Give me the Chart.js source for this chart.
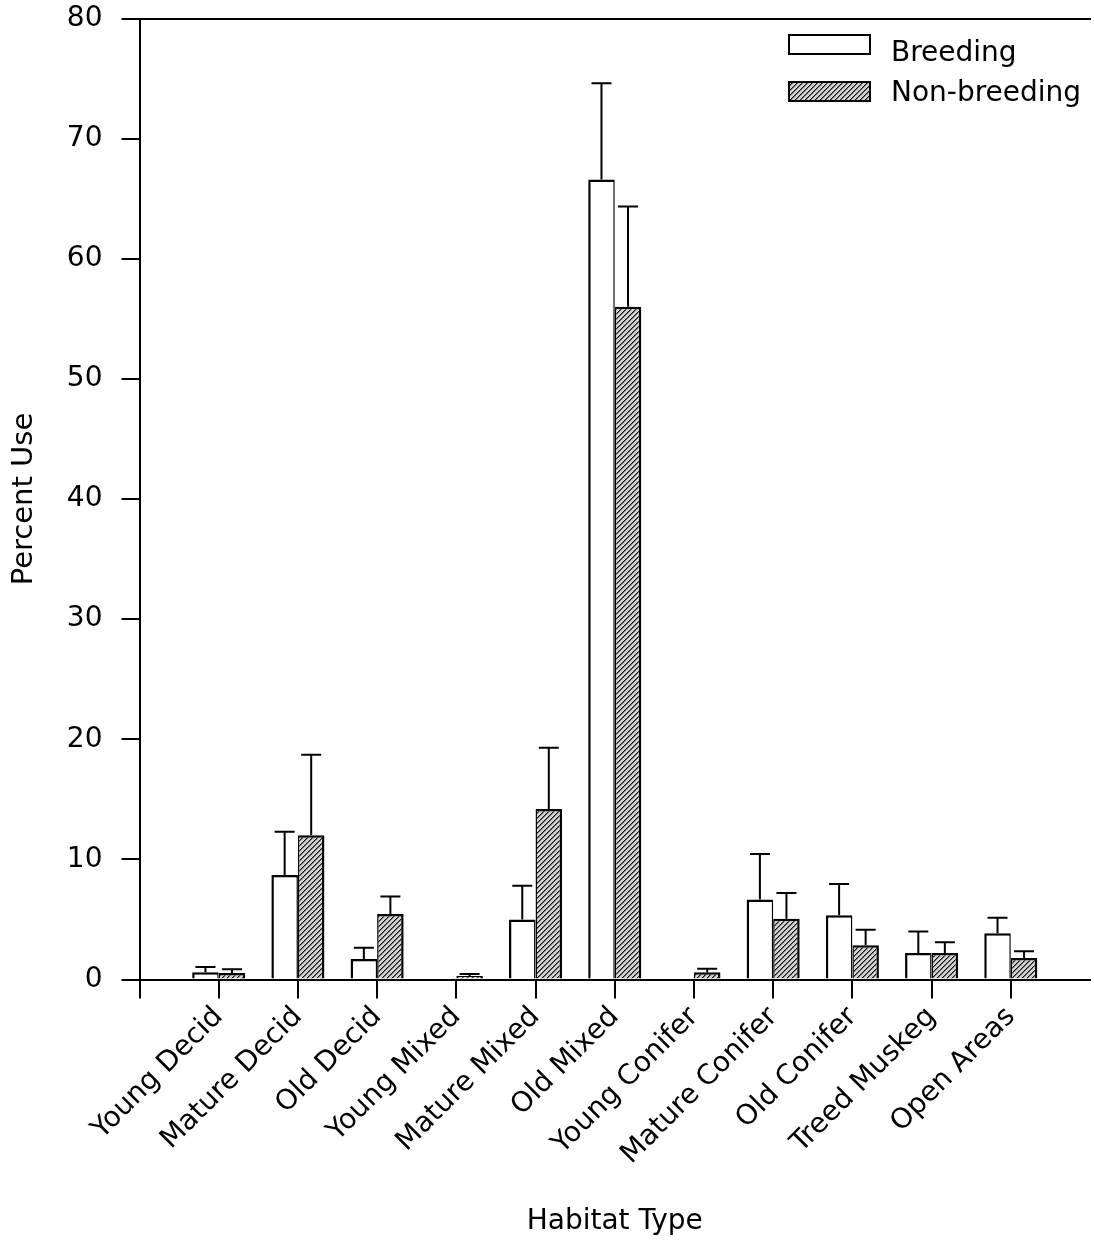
<!DOCTYPE html>
<html>
<head>
<meta charset="utf-8">
<script src="https://cdn.jsdelivr.net/npm/chart.js@4/dist/chart.umd.min.js"></script>
<style>
  html, body { margin: 0; padding: 0; background: #fff; }
  #wrap { width: 1094px; height: 1245px; position: relative; }
</style>
</head>
<body>
<div id="wrap"><canvas id="chart" width="1094" height="1245"></canvas></div>
<script>
// Habitat categories along the x axis
const habitats = ['Young Decid', 'Mature Decid', 'Old Decid', 'Young Mixed', 'Mature Mixed',
  'Old Mixed', 'Young Conifer', 'Mature Conifer', 'Old Conifer', 'Treed Muskeg', 'Open Areas'];

// Mean percent use and upper standard error, breeding season
const breedingUse = [0.6, 8.7, 1.7, 0, 5.0, 66.6, 0, 6.65, 5.35, 2.2, 3.85];
const breedingSE  = [0.45, 3.6, 0.95, 0, 2.8, 8.0, 0, 3.8, 2.6, 1.8, 1.3];

// Mean percent use and upper standard error, non-breeding season
const nonBreedingUse = [0.55, 12.0, 5.45, 0.3, 14.2, 56.0, 0.6, 5.05, 2.85, 2.2, 1.8];
const nonBreedingSE  = [0.3, 6.7, 1.45, 0.15, 5.1, 8.35, 0.3, 2.15, 1.3, 0.9, 0.55];

// Y axis tick values
const yTicks = [0, 10, 20, 30, 40, 50, 60, 70, 80];

const FONT = 'DejaVu Sans';

// One empty slot on each side so the habitats sit at whole-step positions
const axisLabels = [''].concat(habitats, ['']);
const pad = arr => [null].concat(arr, [null]);

const canvas = document.getElementById('chart');
const ctx = canvas.getContext('2d');

// Diagonal hatch used for the non-breeding bars
function makeHatch() {
  const s = 5;
  const tile = document.createElement('canvas');
  tile.width = s; tile.height = s;
  const g = tile.getContext('2d');
  g.fillStyle = '#d2d2d2';
  g.fillRect(0, 0, s, s);
  for (let i = 0; i < s; i++) {
    g.fillStyle = '#161616';
    g.fillRect(i, s - 1 - i, 1, 1);
    g.fillStyle = '#6c6c6c';
    g.fillRect(i, (s - i) % s, 1, 1);
  }
  return ctx.createPattern(tile, 'repeat');
}
const hatch = makeHatch();

// Scales keep exactly the size given to them, without extra label padding
function fixBox(size) {
  return s => {
    if (size.width !== undefined) s.width = size.width;
    if (size.height !== undefined) s.height = size.height;
    s.paddingLeft = 0; s.paddingRight = 0; s.paddingTop = 0; s.paddingBottom = 0;
  };
}

// Upper error whiskers with caps
const errorBars = {
  id: 'errorBars',
  afterDatasetsDraw(chart) {
    const c = chart.ctx;
    const yScale = chart.scales.y;
    chart.data.datasets.forEach((ds, di) => {
      const meta = chart.getDatasetMeta(di);
      meta.data.forEach((bar, i) => {
        const v = ds.data[i];
        const e = ds.errors[i];
        if (v == null || !e) return;
        const yt = yScale.getPixelForValue(v + e);
        c.save();
        c.strokeStyle = '#000';
        c.lineWidth = 2;
        c.beginPath();
        c.moveTo(bar.x, bar.y);
        c.lineTo(bar.x, yt);
        c.moveTo(bar.x - 10, yt);
        c.lineTo(bar.x + 10, yt);
        c.stroke();
        c.restore();
      });
    });
  }
};

// Legend drawn inside the upper-right corner of the plot
const legendLayout = { boxX: 789, boxW: 81, boxH: 19, boxY: [35, 82], textX: 891, textY: [61, 101] };
const insideLegend = {
  id: 'insideLegend',
  afterDraw(chart) {
    const c = chart.ctx;
    const L = legendLayout;
    chart.data.datasets.forEach((ds, i) => {
      c.save();
      c.fillStyle = ds.backgroundColor;
      c.fillRect(L.boxX, L.boxY[i], L.boxW, L.boxH);
      c.strokeStyle = '#000';
      c.lineWidth = 2;
      c.strokeRect(L.boxX, L.boxY[i], L.boxW, L.boxH);
      c.fillStyle = '#000';
      c.font = '28px "' + FONT + '"';
      c.textBaseline = 'alphabetic';
      c.textAlign = 'left';
      c.fillText(ds.label, L.textX, L.textY[i]);
      c.restore();
    });
  }
};

new Chart(ctx, {
  type: 'bar',
  data: {
    labels: axisLabels,
    datasets: [
      {
        label: 'Breeding',
        data: pad(breedingUse),
        errors: pad(breedingSE),
        backgroundColor: '#ffffff',
        borderColor: '#000',
        borderWidth: { top: 2.5, left: 2.5, right: 1.5, bottom: 0 },
        barPercentage: 1,
        categoryPercentage: 0.67
      },
      {
        label: 'Non-breeding',
        data: pad(nonBreedingUse),
        errors: pad(nonBreedingSE),
        backgroundColor: hatch,
        borderColor: '#000',
        borderWidth: { top: 2.5, left: 1.5, right: 2.5, bottom: 0 },
        barPercentage: 1,
        categoryPercentage: 0.67
      }
    ]
  },
  options: {
    responsive: false,
    animation: false,
    devicePixelRatio: 1,
    layout: { padding: { top: 18.5, right: 4, left: 0, bottom: 0 } },
    plugins: { legend: { display: false }, tooltip: { enabled: false } },
    scales: {
      x: {
        type: 'category',
        offset: false,
        grid: {
          offset: false,
          drawOnChartArea: false,
          drawTicks: true,
          tickLength: 19,
          lineWidth: 2,
          color: c => (c.index === axisLabels.length - 1 ? 'rgba(0,0,0,0)' : '#000')
        },
        border: { display: true, color: '#000', width: 2 },
        ticks: {
          autoSkip: false,
          minRotation: 45,
          maxRotation: 45,
          color: '#000',
          padding: 2,
          font: { family: FONT, size: 28 }
        },
        title: {
          display: true,
          text: 'Habitat Type',
          color: '#000',
          font: { family: FONT, size: 28 },
          padding: { top: 0, bottom: 6 }
        },
        afterFit: fixBox({ height: 265.5 })
      },
      x2: {
        type: 'category',
        position: 'top',
        offset: false,
        grid: { display: false },
        ticks: { display: false },
        border: { display: true, color: '#000', width: 2 },
        afterFit: fixBox({ height: 0 })
      },
      y: {
        min: 0,
        max: 80,
        afterBuildTicks: s => { s.ticks = yTicks.map(v => ({ value: v })); },
        grid: {
          drawOnChartArea: false,
          drawTicks: true,
          tickLength: 18,
          lineWidth: 2,
          color: '#000'
        },
        border: { display: true, color: '#000', width: 2 },
        ticks: {
          color: '#000',
          padding: 19,
          font: { family: FONT, size: 28 }
        },
        title: {
          display: true,
          text: 'Percent Use',
          color: '#000',
          font: { family: FONT, size: 29 },
          padding: { top: 7, bottom: 0 }
        },
        afterFit: fixBox({ width: 139.5 })
      }
    }
  },
  plugins: [errorBars, insideLegend]
});
</script>
</body>
</html>
